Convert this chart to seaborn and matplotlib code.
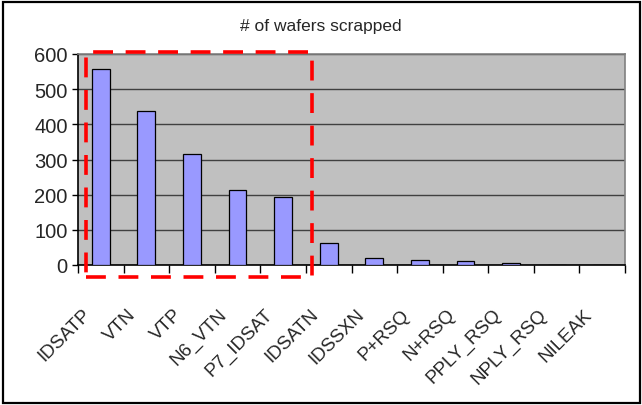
import pandas as pd
import matplotlib
matplotlib.use("Agg")
from matplotlib import pyplot as plt
from matplotlib.patches import Rectangle
import matplotlib.transforms as mtransforms
import seaborn as sns

PARAMS = ["IDSATP", "VTN", "VTP", "N6_VTN", "P7_IDSAT", "IDSATN",
          "IDSSXN", "P+RSQ", "N+RSQ", "PPLY_RSQ", "NPLY_RSQ", "NILEAK"]
SCRAPPED = [557, 437, 315, 212, 192, 63, 20, 15, 12, 7, 0, 0]
Y_TICKS = [0, 100, 200, 300, 400, 500, 600]

sns.set_style("white")
plt.rcParams["font.family"] = ["Liberation Sans", "DejaVu Sans"]

df = pd.DataFrame({"param": PARAMS, "wafers": SCRAPPED})

fig = plt.figure(figsize=(6.42, 4.06), dpi=100)
# plot area in pixels: x 78..625, y 55..266 (from top)
ax = fig.add_axes([78 / 642, 1 - 266 / 406, (625 - 78) / 642, (266 - 55) / 406])

sns.barplot(data=df, x="param", y="wafers", color="#9999ff", saturation=1,
            width=0.39, edgecolor="black", linewidth=0.9, ax=ax, zorder=3)

ax.set_facecolor("#c0c0c0")
ax.set_ylim(0, 600)
ax.set_xlim(-0.5, len(PARAMS) - 0.5)
ax.set_yticks(Y_TICKS)
ax.yaxis.grid(True, color="#404040", linewidth=1.0, zorder=1)
ax.set_axisbelow(True)
ax.set_xlabel("")
ax.set_ylabel("")

# spines: black axis lines, grey plot frame
for side in ["top", "right"]:
    ax.spines[side].set_color("#808080")
    ax.spines[side].set_linewidth(1.2)
for side in ["left", "bottom"]:
    ax.spines[side].set_color("black")
    ax.spines[side].set_linewidth(1.2)

# category boundary ticks on the x axis
ax.set_xticks([i - 0.5 for i in range(len(PARAMS) + 1)], minor=True)
ax.tick_params(axis="x", which="minor", bottom=True, direction="out",
               length=5.5, width=1, color="black")
ax.tick_params(axis="x", which="major", bottom=True, length=0, pad=29)
ax.tick_params(axis="y", direction="out", length=4.5, width=1, color="black",
               labelsize=14.5, pad=3, left=True)

ax.set_xticks(range(len(PARAMS)))
ax.set_xticklabels(PARAMS, rotation=45, ha="right", va="top",
                   rotation_mode="anchor", fontsize=13.5)
offset = mtransforms.ScaledTranslation(-19 / 100, 0, fig.dpi_scale_trans)
for lab in ax.get_xticklabels():
    lab.set_transform(lab.get_transform() + offset)

fig.text(0.5, 1 - 27 / 406, "# of wafers scrapped", ha="center", va="center",
         fontsize=12.5)

# red dashed highlight box around the first five parameters
ax.add_patch(Rectangle((-0.33, -33), 4.955, 638, fill=False, edgecolor="#ff0000",
                       linewidth=2.6, linestyle=(0, (5.5, 3.5)), clip_on=False, zorder=5))

# outer chart border
fig.patches.append(Rectangle((2.5 / 642, 2.5 / 406), 1 - 5 / 642, 1 - 5 / 406,
                             transform=fig.transFigure, fill=False,
                             edgecolor="black", linewidth=1.6))

fig.savefig("out.png", dpi=100)
